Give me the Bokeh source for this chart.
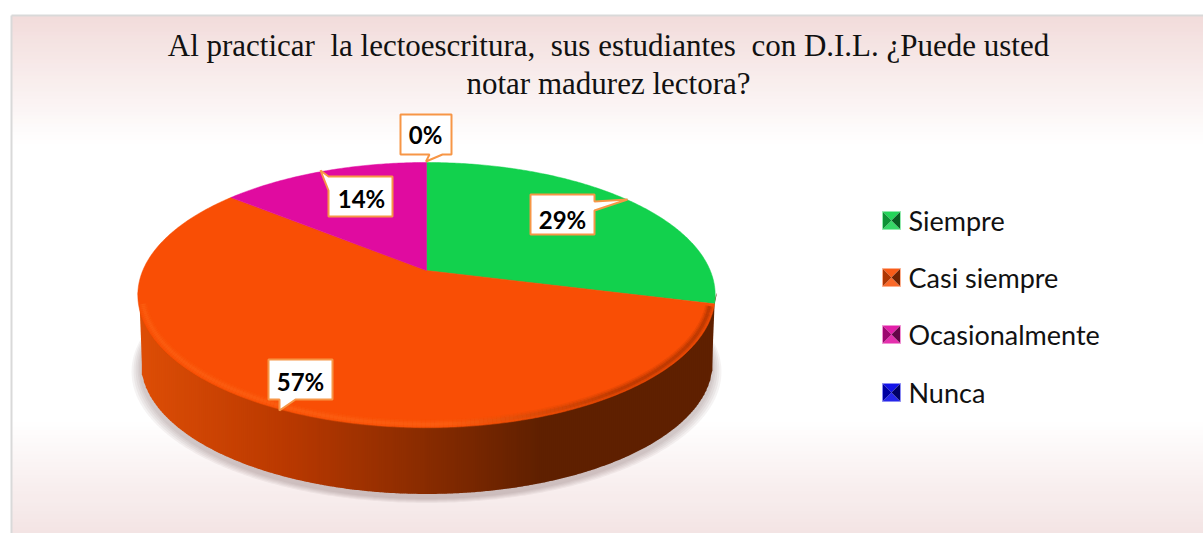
import numpy as np
from bokeh.plotting import figure
from bokeh.models import Range1d
from bokeh.core.properties import value
from bokeh.embed import file_html
from bokeh.resources import INLINE

# ---- data ----
TITLE_LINES = ["Al practicar\u00a0 la lectoescritura,\u00a0 sus estudiantes\u00a0 con D.I.L. ¿Puede usted",
               "notar madurez lectora?"]
CATEGORIES = ["Siempre", "Casi siempre", "Ocasionalmente", "Nunca"]
VALUES = [29, 57, 14, 0]
COLORS = ["#12d14d", "#f94e05", "#e00ba0", "#0000e6"]

# ---- layout (page pixel coordinates) ----
W, H = 1203, 533
p = figure(width=W, height=H, output_backend="svg", toolbar_location=None,
           x_range=Range1d(0, W), y_range=Range1d(H, 0), min_border=0)
p.axis.visible = False
p.grid.visible = False
p.outline_line_color = None
p.background_fill_color = "white"
p.border_fill_color = "white"

def mix(c1, c2, t):
    a = np.array([int(c1[i:i+2], 16) for i in (1, 3, 5)], float)
    b = np.array([int(c2[i:i+2], 16) for i in (1, 3, 5)], float)
    c = a + (b - a) * t
    return "#%02x%02x%02x" % tuple(int(round(v)) for v in c)

# frame + gradient background
FX0, FY0, FX1, FY1 = 11, 15, W, H
p.quad(left=[FX0], right=[FX1], top=[FY0], bottom=[FY1], fill_color="white", line_color=None)
ys = np.arange(FY0, 142, 4)
p.quad(left=FX0, right=FX1, top=ys, bottom=ys + 4.5, line_color=None,
       fill_color=[mix("#f2dcdb", "#ffffff", (y - FY0) / (142 - FY0)) for y in ys])
ys2 = np.arange(418, FY1, 4)
p.quad(left=FX0, right=FX1, top=ys2, bottom=ys2 + 4.5, line_color=None,
       fill_color=[mix("#ffffff", "#f3e3e3", (y - 418) / (533 - 418)) for y in ys2])
p.line([FX0, FX0], [FY1, FY0], line_color="#d9d9d9", line_width=2)
p.line([FX0, FX1], [FY0, FY0], line_color="#d9d9d9", line_width=2)

# perspective pie
CX, CY, A, B, K = 426.0, 270.0, 283.7, 128.0, 0.1849
def rim(theta, s=1.0, cy=CY, da=0.0, dy=0.0):
    u, v = np.sin(theta), np.cos(theta)
    d = 1 + K * v
    return CX + (A * s + da) * u / d, cy + dy - B * s * v / d

T = np.linspace(0, 2 * np.pi, 721)

# soft shadow
for i, (grow, dy) in enumerate([(9, 9), (7, 8), (5, 7), (3, 6), (1.5, 5)]):
    x, y = rim(T, s=0.99, cy=338, da=grow, dy=dy)
    p.patch(x, y, fill_color="#6b5a5a", fill_alpha=0.07, line_color=None)

# side wall, shaded by strip
tx, ty = rim(T)
bx, by = rim(T, s=0.99, cy=338)
def front(x, y):
    i0, i1 = int(np.argmax(x[:-1])), int(np.argmin(x[:-1]))
    return x[i1:i0:-1], y[i1:i0:-1]
ftx, fty = front(tx, ty)
fbx, fby = front(bx, by)
WALL_STOPS = [(137, "#de4e06"), (290, "#b83800"), (420, "#8a2c00"), (540, "#5f2000"), (716, "#5f2000")]
def wall_color(x):
    for (x0, c0), (x1, c1) in zip(WALL_STOPS, WALL_STOPS[1:]):
        if x <= x1:
            return mix(c0, c1, (x - x0) / (x1 - x0))
    return WALL_STOPS[-1][1]
edges = np.arange(ftx.min(), ftx.max() + 2, 2.0)
top = np.interp(edges, ftx, fty)
bot = np.where((edges >= fbx.min()) & (edges <= fbx.max()), np.interp(edges, fbx, fby), top)
bot = np.maximum(bot, top)
xs_w, ys_w, cs_w = [], [], []
for j in range(len(edges) - 1):
    xs_w.append([edges[j], edges[j + 1] + 0.6, edges[j + 1] + 0.6, edges[j]])
    ys_w.append([top[j] - 3, top[j + 1] - 3, bot[j + 1], bot[j]])
    cs_w.append(wall_color(edges[j]))
p.patches(xs_w, ys_w, fill_color=cs_w, line_color=None)

# top face slices, computed from the values
total = sum(VALUES)
start = 0.0
for val, col in zip(VALUES, COLORS):
    end = start + val / total * 2 * np.pi
    if val > 0:
        t = np.linspace(start, end, max(int(val * 6), 3))
        x, y = rim(t)
        p.patch(np.r_[CX, x], np.r_[CY, y], fill_color=col, line_color=col, line_width=0.5)
    start = end

# soft bevel along the front rim
fx2, fy2 = rim(np.linspace(np.radians(106), np.radians(255), 200), s=0.985, cy=CY - 1)
segx = [[fx2[j], fx2[j + 1]] for j in range(len(fx2) - 1)]
segy = [[fy2[j], fy2[j + 1]] for j in range(len(fx2) - 1)]
segc = [("#ff6a1c" if x < 450 else mix("#ff6a1c", "#8a2c00", min((x - 450) / 170, 1))) for x in fx2[:-1]]
p.multi_line(segx, segy, line_color=segc, line_alpha=0.12, line_width=9)
p.multi_line(segx, segy, line_color=segc, line_alpha=0.2, line_width=6)
p.multi_line(segx, segy, line_color=segc, line_alpha=0.3, line_width=3)

# data label callouts
BOX_XS = [[530, 594, 594, 627, 594, 594, 530],
          [268, 279, 279, 295, 332, 332, 268],
          [328, 392, 392, 328, 328, 320, 328],
          [400, 451, 451, 442, 425.5, 429, 400]]
BOX_YS = [[194, 194, 201, 199, 210, 234, 234],
          [399, 399, 410, 399, 399, 359, 359],
          [176, 176, 216, 216, 190, 170, 176],
          [114, 114, 154, 154, 161, 154, 154]]
p.patches(BOX_XS, BOX_YS, fill_color="white", line_color="#f79646", line_width=2)
LABEL_X = [562, 300, 361, 425]
LABEL_Y = [219, 381, 198, 134]
p.text(LABEL_X, LABEL_Y, text=[f"{v}%" for v in VALUES], text_font=value("Lato"),
       text_font_style="bold", text_font_size="24px", text_color="black",
       text_align="center", text_baseline="middle")

# title
p.text([608, 608], [45, 83], text=TITLE_LINES, text_font=value("Liberation Serif"),
       text_font_size="31px", text_color="#111111", text_align="center", text_baseline="middle")

# legend
LEG_Y = [220, 277, 334, 392]
for ly, col in zip(LEG_Y, COLORS):
    x0, x1, y0, y1 = 882, 900, ly - 9, ly + 9
    xc, yc = 891, ly
    p.patches([[x0, x1, xc], [x0, x1, xc], [x0, xc, x0], [x1, xc, x1]],
              [[y0, y0, yc], [y1, y1, yc], [y0, yc, y1], [y0, yc, y1]],
              fill_color=[mix(col, "#ffffff", 0.08), mix(col, "#ffffff", 0.15),
                          mix(col, "#000000", 0.3), mix(col, "#000000", 0.55)],
              line_color=None)
    p.quad(left=[x0], right=[x1], top=[y0], bottom=[y1], fill_color=None,
           line_color=mix(col, "#ffffff", 0.55), line_width=1)
p.text([908] * 4, LEG_Y, text=CATEGORIES, text_font=value("Lato"), text_font_size="27px",
       text_color="#111111", text_align="left", text_baseline="middle")

open("out.html", "w").write(file_html(p, INLINE))
